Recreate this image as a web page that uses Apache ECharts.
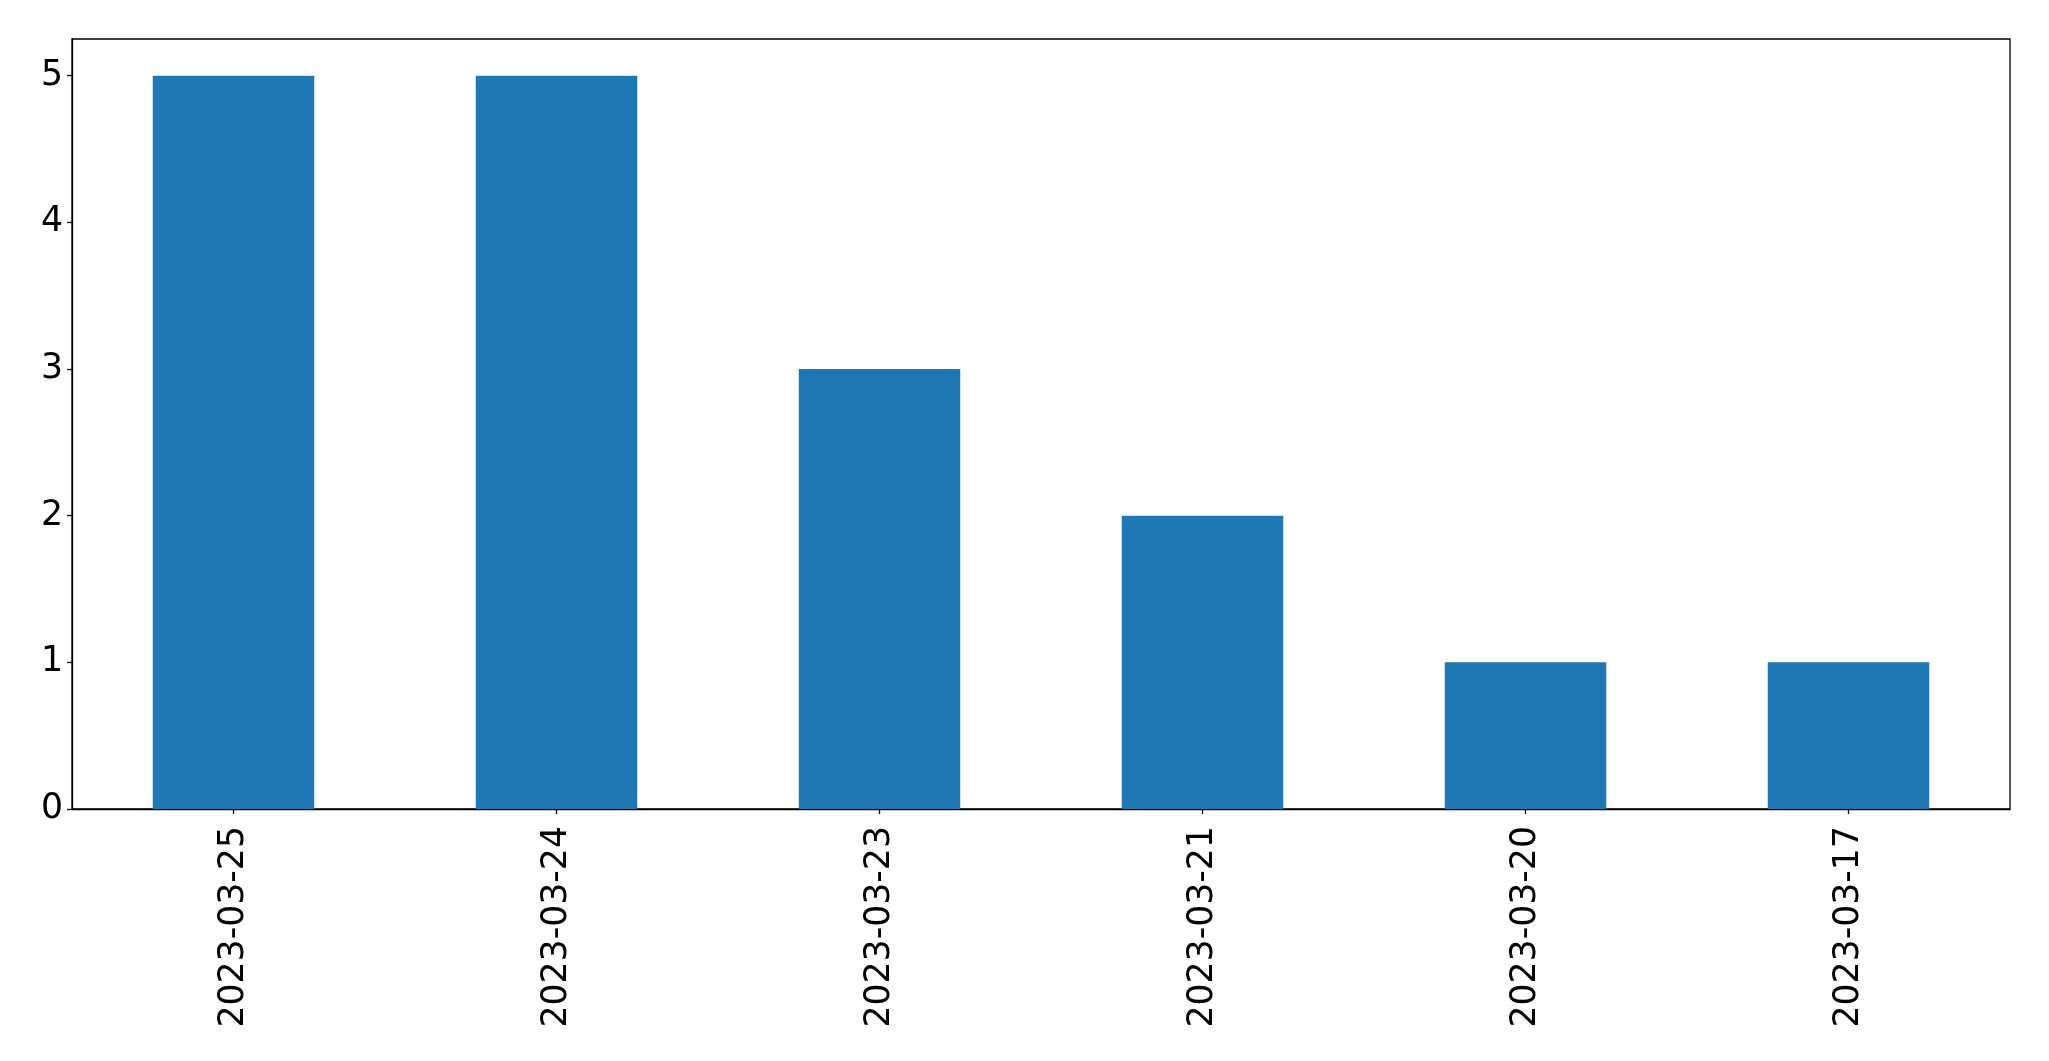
<!DOCTYPE html>
<html>
<head>
<meta charset="utf-8">
<script src="https://cdn.jsdelivr.net/npm/echarts@6/dist/echarts.min.js"></script>
<style>html,body{margin:0;padding:0;background:#fff;}#c{width:2049px;height:1061px;}</style>
</head>
<body>
<div id="c"></div>
<script>
const categories = ['2023-03-25', '2023-03-24', '2023-03-23', '2023-03-21', '2023-03-20', '2023-03-17'];
const values = [5, 5, 3, 2, 1, 1];
const yTicks = [0, 1, 2, 3, 4, 5];

const font = 'DejaVu Sans';
const chart = echarts.init(document.getElementById('c'), null, {renderer: 'canvas'});
chart.setOption({
  animation: false,
  backgroundColor: '#ffffff',
  grid: {left: 72, right: 39, top: 39, bottom: 252, show: true, borderColor: '#000', borderWidth: 1.3, containLabel: false},
  xAxis: {
    type: 'category',
    data: categories,
    boundaryGap: true,
    axisLine: {show: true, lineStyle: {color: '#000', width: 1.3}},
    axisTick: {show: true, alignWithLabel: true, length: 5, lineStyle: {color: '#000', width: 1.3}},
    axisLabel: {rotate: 90, margin: 17, color: '#000', fontFamily: font, fontSize: 34.7, interval: 0},
    splitLine: {show: false}
  },
  yAxis: {
    type: 'value',
    min: 0,
    max: 5.25,
    interval: 1,
    axisLine: {show: true, lineStyle: {color: '#000', width: 1.3}},
    axisTick: {show: true, length: 5, lineStyle: {color: '#000', width: 1.3}, customValues: yTicks},
    axisLabel: {margin: 9, color: '#000', fontFamily: font, fontSize: 34.7, customValues: yTicks, padding: [6, 0, 0, 0]},
    splitLine: {show: false}
  },
  series: [{
    type: 'bar',
    data: values,
    barWidth: '50%',
    itemStyle: {color: '#1f77b4'}
  }]
});
</script>
</body>
</html>
